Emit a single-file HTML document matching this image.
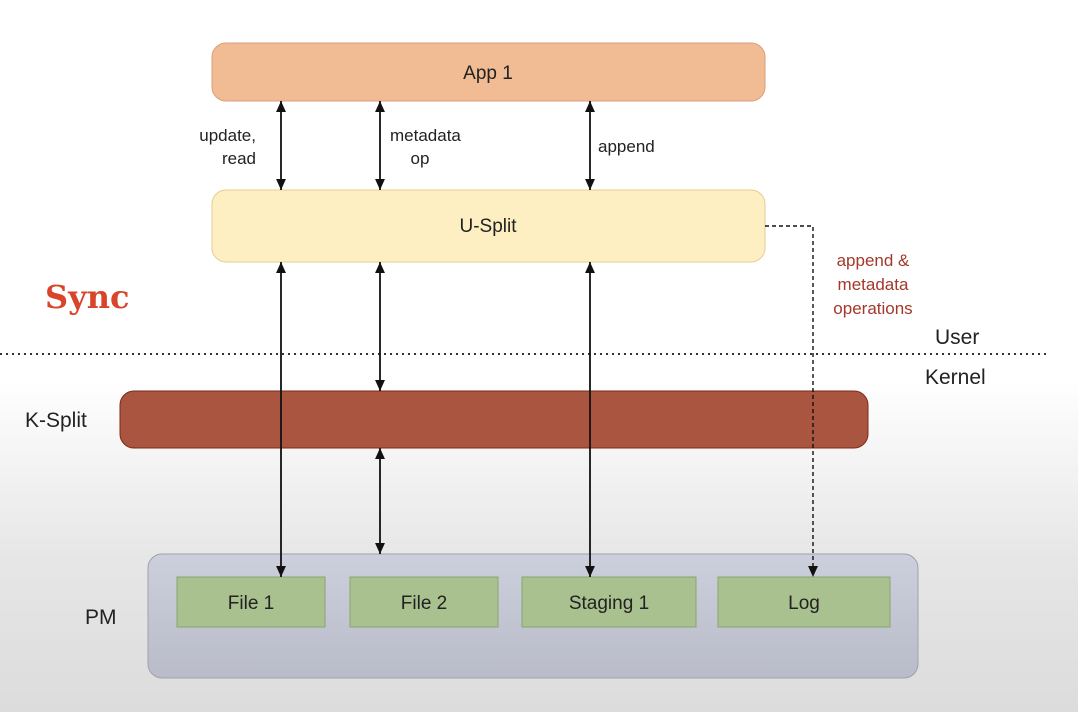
<!DOCTYPE html>
<html><head><meta charset="utf-8"><style>
html,body{margin:0;padding:0;}
body{width:1078px;height:712px;overflow:hidden;background:linear-gradient(to bottom,#ffffff 0px,#ffffff 380px,#e6e6e6 560px,#dcdcdc 712px);}
text{font-family:"Liberation Sans",sans-serif;}
text.sync{font-family:"DejaVu Serif","Liberation Serif",serif;}
</style></head><body>
<svg width="1078" height="712" viewBox="0 0 1078 712" xmlns="http://www.w3.org/2000/svg">
<defs>
<marker id="a" viewBox="0 0 10 10" refX="10" refY="5" markerWidth="13" markerHeight="11" orient="auto-start-reverse" markerUnits="userSpaceOnUse"><path d="M0,0.5 L10,5 L0,9.5 z" fill="#111"/></marker>
<linearGradient id="pm" x1="0" y1="0" x2="0" y2="1"><stop offset="0" stop-color="#ccd0dc"/><stop offset="1" stop-color="#b9bcc8"/></linearGradient>
</defs>
<line x1="0" y1="354" x2="1050" y2="354" stroke="#333" stroke-width="2" stroke-dasharray="2,4"/>
<rect x="212" y="43" width="553" height="58" rx="14" fill="#f1bb93" stroke="#d9a07a"/>
<text x="488" y="79" font-size="19" text-anchor="middle" fill="#222">App 1</text>
<rect x="212" y="190" width="553" height="72" rx="14" fill="#fdefc1" stroke="#e2cf92"/>
<text x="488" y="232" font-size="19" text-anchor="middle" fill="#222">U-Split</text>
<rect x="120" y="391" width="748" height="57" rx="14" fill="#a9553f" stroke="#7a2a1a"/>
<rect x="148" y="554" width="770" height="124" rx="14" fill="url(#pm)" stroke="#9ea2ae"/>
<g fill="#a9c08f" stroke="#8aa272">
<rect x="177" y="577" width="148" height="50"/>
<rect x="350" y="577" width="148" height="50"/>
<rect x="522" y="577" width="174" height="50"/>
<rect x="718" y="577" width="172" height="50"/>
</g>
<g font-size="19" text-anchor="middle" fill="#222">
<text x="251" y="609">File 1</text>
<text x="424" y="609">File 2</text>
<text x="609" y="609">Staging 1</text>
<text x="804" y="609">Log</text>
</g>
<g stroke="#111" stroke-width="1.8" marker-start="url(#a)" marker-end="url(#a)">
<line x1="281" y1="101" x2="281" y2="190"/>
<line x1="380" y1="101" x2="380" y2="190"/>
<line x1="590" y1="101" x2="590" y2="190"/>
<line x1="281" y1="262" x2="281" y2="577"/>
<line x1="380" y1="262" x2="380" y2="391"/>
<line x1="380" y1="448" x2="380" y2="554"/>
<line x1="590" y1="262" x2="590" y2="577"/>
</g>
<polyline points="765,226 813,226 813,577" fill="none" stroke="#111" stroke-width="1.4" stroke-dasharray="4,3" marker-end="url(#a)"/>
<g font-size="17" fill="#222">
<text x="256" y="141" text-anchor="end">update,</text>
<text x="256" y="164" text-anchor="end">read</text>
<text x="390" y="141">metadata</text>
<text x="420" y="164" text-anchor="middle">op</text>
<text x="598" y="152">append</text>
</g>
<g font-size="17" fill="#a3382b" text-anchor="middle">
<text x="873" y="266">append &amp;</text>
<text x="873" y="290">metadata</text>
<text x="873" y="314">operations</text>
</g>
<g font-size="21" fill="#222">
<text x="935" y="344">User</text>
<text x="925" y="384">Kernel</text>
<text x="25" y="427">K-Split</text>
<text x="85" y="624">PM</text>
</g>
<text class="sync" x="45" y="308" font-weight="bold" font-size="32" fill="#d9452b">Sync</text>
</svg>
</body></html>
